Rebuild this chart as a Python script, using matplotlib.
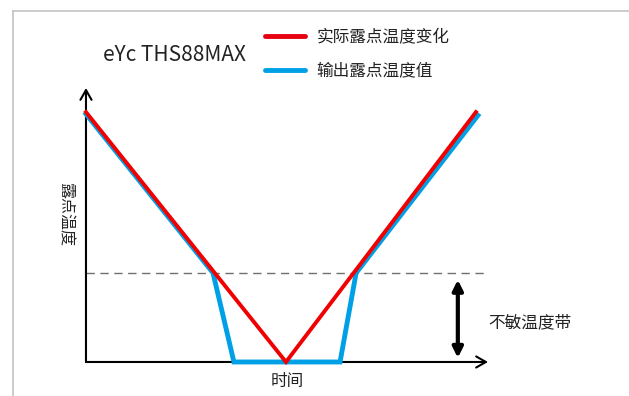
import matplotlib
matplotlib.use("Agg")
import matplotlib.pyplot as plt
from matplotlib.lines import Line2D

plt.rcParams['font.family'] = ['Noto Sans CJK SC', 'DejaVu Sans']

# data (arbitrary units: time 0..100, temperature 0..100)
t_real = [0, 49.75, 97]
v_real = [91.2, 0, 91.2]
t_out = [0, 31.6, 36.8, 63.2, 67.2, 97.5]
v_out = [90.5, 32.5, 0, 0, 32.5, 90]
threshold = 32.5
labels = ['实际露点温度变化', '输出露点温度值']
red = '#f00000'
blue = '#00a0e6'

fig = plt.figure(figsize=(6.29, 3.96), dpi=100)
ax = fig.add_axes([0.1367, 0.0859, 0.6391, 0.6919])
ax.set_xlim(0, 100)
ax.set_ylim(0, 100)
for s in ax.spines.values():
    s.set_visible(False)
ax.set_xticks([])
ax.set_yticks([])

# gray frame
fig.add_artist(Line2D([0.0207, 0.0207], [0, 0.972], transform=fig.transFigure, color='#c4c4c4', lw=1.2))
fig.add_artist(Line2D([0.0207, 1], [0.972, 0.972], transform=fig.transFigure, color='#c4c4c4', lw=1.2))

# axes arrows
ax.annotate('', xy=(0, 1), xytext=(0, 0), xycoords='axes fraction',
            arrowprops=dict(arrowstyle='->,head_length=0.7,head_width=0.4', lw=1.5, color='black', shrinkA=0, shrinkB=0))
ax.annotate('', xy=(1, 0), xytext=(0, 0), xycoords='axes fraction',
            arrowprops=dict(arrowstyle='->,head_length=0.7,head_width=0.4', lw=1.5, color='black', shrinkA=0, shrinkB=0))

ax.axhline(threshold, color='#707070', lw=1, ls=(0, (6, 4)))

ax.plot(t_out, v_out, color=blue, lw=3.5, solid_joinstyle='miter', clip_on=False, zorder=3)
ax.plot(t_real, v_real, color=red, lw=2.8, solid_joinstyle='miter', clip_on=False, zorder=4)

# insensitive band arrow
ax.annotate('', xy=(92.5, 1.5), xytext=(92.5, threshold - 2.5), xycoords='data',
            arrowprops=dict(arrowstyle='<|-|>,head_length=0.6,head_width=0.3', lw=3, color='black',
                            shrinkA=0, shrinkB=0))
ax.text(100, 14.2, '不敏温度带', fontsize=12, va='center', ha='left', color='#222222')

ax.text(0.5, -0.07, '时间', transform=ax.transAxes, fontsize=12, ha='center', va='center', color='#222222')
ax.text(-0.053, 0.54, '露点温度', transform=ax.transAxes, fontsize=11.5, rotation=270,
        ha='center', va='center', color='#222222')

fig.text(175 / 629, 1 - 55 / 396, 'eYc THS88MAX', fontsize=15, ha='center', va='center', color='#222222')

handles = [Line2D([], [], color='#e60012', lw=3.5, solid_capstyle='round'),
           Line2D([], [], color=blue, lw=3.5, solid_capstyle='round')]
fig.legend(handles, labels, loc='upper left', bbox_to_anchor=(250 / 629, 1 - 14 / 396),
           frameon=False, fontsize=12, handlelength=2.4, handletextpad=0.7, labelspacing=1.0,
           labelcolor='#222222')

fig.savefig('out.png', dpi=100)
